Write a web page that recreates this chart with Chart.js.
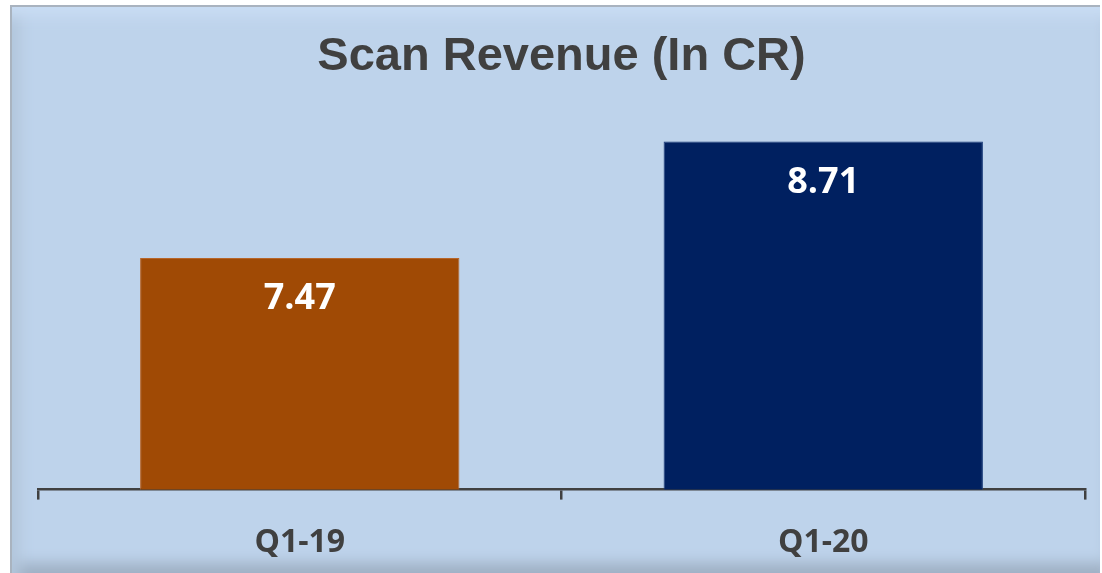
<!DOCTYPE html>
<html>
<head>
<meta charset="utf-8">
<script src="https://cdn.jsdelivr.net/npm/chart.js@4"></script>
<style>
  body { margin: 0; background: #fff; overflow: hidden; }
  #panel {
    position: absolute; left: 10px; top: 5px; width: 1090px; height: 568px;
    background: #bed3eb;
    box-shadow: inset 2px 2px 0 #a9b3bf, inset 0 22px 14px -10px #c8dcf3,
                inset 22px 0 14px -12px #b3c6dc, inset 0 -18px 14px -8px #9fb0c4;
  }
  #wrap { position: absolute; left: 0; top: 0; width: 1102px; height: 573px; }
</style>
</head>
<body>
<div id="panel"></div>
<div id="wrap"><canvas id="revChart"></canvas></div>
<script>
const categories = ['Q1-19', 'Q1-20'];
const revenue = [7.47, 8.71];
const barColors = ['#a04a05', '#002060'];

// write the value inside the top of each bar
const valueLabels = {
  id: 'valueLabels',
  afterDatasetsDraw(chart) {
    const ctx = chart.ctx;
    const meta = chart.getDatasetMeta(0);
    ctx.save();
    ctx.fillStyle = '#ffffff';
    ctx.font = 'bold 36px "Open Sans"';
    ctx.textAlign = 'center';
    ctx.textBaseline = 'middle';
    meta.data.forEach((bar, i) => {
      ctx.fillText(revenue[i].toFixed(2), bar.x, bar.y + 41);
    });
    ctx.restore();
  }
};

const ctx = document.getElementById('revChart').getContext('2d');
const chart = new Chart(ctx, {
  type: 'bar',
  data: {
    labels: categories,
    datasets: [{
      data: revenue,
      backgroundColor: barColors,
      borderColor: ['#b7652a', '#1a3a78'],
      borderWidth: 1,
      barPercentage: 0.61,
      categoryPercentage: 1
    }]
  },
  options: {
    responsive: true,
    maintainAspectRatio: false,
    animation: false,
    layout: { padding: { top: 10, left: 38, right: 17, bottom: -13 } },
    plugins: {
      legend: { display: false },
      tooltip: { enabled: false },
      title: {
        display: true,
        text: 'Scan Revenue (In CR)',
        color: '#404040',
        font: { family: '"Liberation Sans", Arial', size: 47, weight: 'bold' },
        padding: { top: 19, bottom: 29 }
      }
    },
    scales: {
      x: {
        grid: { drawOnChartArea: false, drawTicks: true, tickLength: 10, color: '#404040', lineWidth: 2.5 },
        border: { display: true, color: '#404040', width: 2.5 },
        ticks: {
          color: '#404040',
          padding: 24,
          font: { family: '"Open Sans"', size: 32, weight: 'bold' }
        }
      },
      y: {
        display: false,
        min: 5,
        max: 9
      }
    }
  },
  plugins: [valueLabels]
});
</script>
</body>
</html>
